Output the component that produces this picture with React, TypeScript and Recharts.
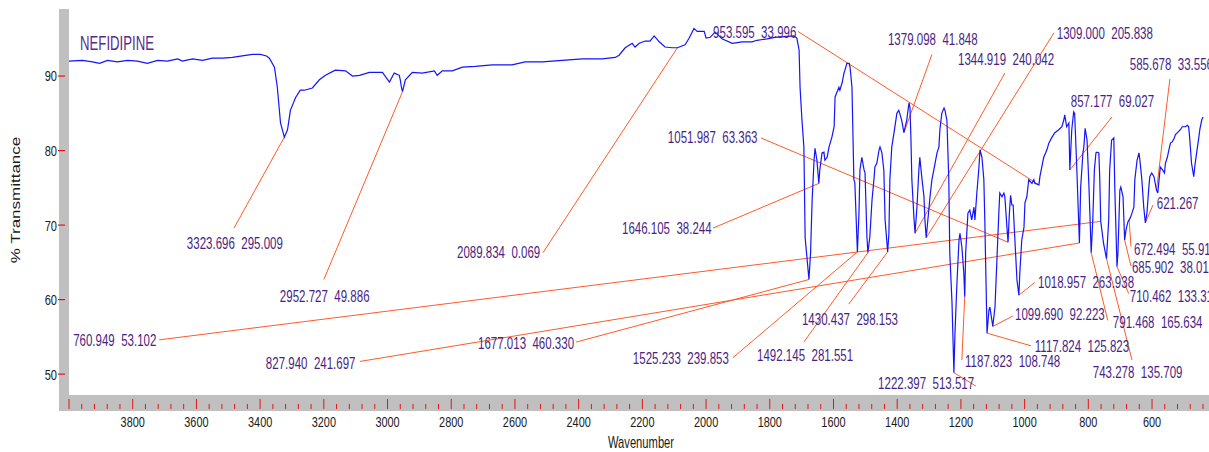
import React from 'react';
import { ComposedChart, Line, Scatter, XAxis, YAxis, ReferenceLine } from 'recharts';

// ---------- spectrum ----------
const wavenumber = [4000,3958,3926,3904,3879,3848,3816,3785,3754,3722,3691,3659,3644,3612,3581,3550,3518,3487,3456,3424,3399,3380,3371,3355,3346,3336,3324,3314,3305,3289,3274,3261,3236,3214,3195,3164,3132,3110,3088,3057,3016,2994,2979,2963,2960,2956,2953,2944,2922,2891,2853,2844,2828,2797,2765,2725,2671,2609,2568,2514,2452,2389,2326,2285,2273,2254,2232,2223,2210,2191,2176,2163,2147,2129,2107,2090,2066,2053,2038,2028,2006,2000,1987,1972,1950,1918,1887,1856,1840,1809,1784,1724,1715,1708,1705,1699,1693,1689,1677,1672,1667,1661,1658,1652,1646,1643,1636,1630,1627,1620,1614,1605,1598,1595,1583,1580,1573,1567,1564,1558,1551,1548,1542,1536,1533,1525,1520,1517,1511,1504,1501,1495,1492,1486,1479,1473,1470,1464,1457,1454,1448,1442,1438,1430,1426,1423,1417,1410,1401,1395,1392,1386,1379,1370,1363,1360,1357,1354,1347,1344,1338,1332,1329,1322,1316,1313,1309,1300,1297,1291,1285,1275,1269,1266,1260,1253,1250,1244,1238,1235,1228,1222,1219,1213,1206,1203,1197,1191,1188,1185,1178,1172,1166,1159,1156,1150,1144,1140,1134,1128,1125,1118,1112,1109,1103,1100,1093,1087,1081,1078,1071,1065,1062,1056,1052,1048,1044,1040,1036,1031,1024,1018,1015,1009,1002,999,993,987,977,971,968,955,952,946,940,930,924,914,905,893,883,877,874,868,861,858,852,846,843,836,828,824,817,814,810,804,798,791,786,781,776,773,767,764,761,752,743,736,733,727,720,717,710,707,701,698,691,686,682,676,672,668,663,657,654,647,641,638,632,626,621,616,610,607,601,594,586,582,577,574,567,561,558,552,545,542,536,530,527,520,511,505,495,489,485,482,476,469,466,460,453,450,444,440];

const transmittance = [92.0,92.1,91.9,91.7,92.1,91.9,92.1,92.0,91.7,92.1,92.0,92.3,92.0,92.3,92.1,92.4,92.4,92.5,92.7,92.9,92.9,92.7,92.4,91.2,88.5,83.7,81.8,82.8,85.4,87.1,88.1,88.1,88.4,89.5,90.1,90.8,90.7,90.0,90.1,90.5,90.5,89.2,90.4,90.1,89.5,88.4,87.9,89.5,90.5,90.4,90.7,90.1,90.7,90.7,91.2,91.3,91.5,91.5,91.9,91.9,92.1,92.3,92.3,92.5,92.8,93.8,94.4,93.9,94.4,94.7,94.7,95.4,94.6,93.9,93.8,93.8,94.2,95.1,96.4,96.0,96.0,95.1,95.2,95.9,95.0,94.4,94.6,94.6,94.8,95.0,95.2,95.4,95.1,93.5,88.5,84.1,80.5,68.3,62.7,66.3,73.4,78.7,80.3,78.7,75.6,77.4,79.7,79.8,78.7,79.1,80.5,81.8,83.2,87.2,88.5,88.1,89.1,90.4,90.8,91.7,91.7,91.2,88.5,76.1,75.7,66.4,71.6,77.4,79.1,77.4,77.0,68.4,66.3,68.4,73.4,76.1,77.8,78.3,80.1,80.5,79.7,77.4,70.7,66.4,68.9,76.1,80.5,82.4,85.0,85.4,85.0,84.1,82.4,84.1,86.4,85.8,81.8,76.1,70.7,68.9,72.4,77.4,79.1,76.1,73.8,70.7,68.3,72.4,73.8,76.1,77.4,79.7,80.5,82.8,85.0,85.7,85.4,84.1,76.1,66.3,59.6,50.2,55.0,61.7,68.0,68.9,67.1,63.6,60.4,66.3,71.6,72.0,70.7,72.4,70.7,74.3,77.4,80.1,79.1,76.1,70.7,55.5,58.6,59.0,57.3,56.4,59.0,65.3,71.6,74.3,73.8,74.3,73.8,70.0,67.7,71.5,74.0,72.7,72.7,68.4,62.6,60.6,63.6,68.0,69.7,73.0,73.8,76.1,75.6,76.1,75.6,75.4,76.5,77.8,79.1,80.1,81.0,81.8,82.4,82.8,83.2,84.1,84.8,83.2,83.7,77.4,82.8,85.2,85.0,77.4,67.6,75.1,79.7,80.5,83.0,81.4,75.1,66.3,70.7,77.4,79.7,79.8,79.7,76.1,70.5,67.5,65.5,70.7,77.4,81.4,81.7,75.1,64.4,66.3,74.7,75.1,73.8,68.0,69.3,70.4,70.7,71.0,71.6,72.4,76.1,78.7,79.7,78.7,76.1,72.4,70.3,71.6,75.1,76.5,77.0,76.5,74.7,74.3,76.5,77.8,77.4,77.0,78.3,79.1,80.5,81.0,81.2,81.7,82.1,82.4,82.8,83.2,83.2,83.4,83.2,81.8,78.3,76.5,77.8,79.7,81.8,82.8,84.1,84.5];

// ---------- axes ----------
const yTicks = [50, 60, 70, 80, 90];
const xMajorTicks = [4000, 3800, 3600, 3400, 3200, 3000, 2800, 2600, 2400, 2200, 2000, 1800, 1600, 1400, 1200, 1000, 800, 600];
const xTickLabels = ['', '3800', '3600', '3400', '3200', '3000', '2800', '2600', '2400', '2200', '2000', '1800', '1600', '1400', '1200', '1000', '800', '600'];
const xMinorStep = 40;
const xMin = 440;
const xMax = 4000;
const yMin = 47.2;
const yMax = 99;

// ---------- peak annotations ----------
const peakText = [
  '3323.696  295.009', '2952.727  49.886', '2089.834  0.069', '953.595  33.996',
  '1379.098  41.848', '1344.919  240.042', '1309.000  205.838', '857.177  69.027',
  '585.678  33.556', '1051.987  63.363', '1646.105  38.244', '621.267',
  '672.494  55.912', '685.902  38.018', '710.462  133.310', '1018.957  263.938',
  '1099.690  92.223', '1117.824  125.823', '1187.823  108.748', '1222.397  513.517',
  '1525.233  239.853', '1492.145  281.551', '1430.437  298.153', '1677.013  460.330',
  '827.940  241.697', '760.949  53.102', '791.468  165.634', '743.278  135.709',
];
const peakX = [3324, 2953, 2090, 955, 1379, 1344, 1309, 858, 586, 1052, 1646, 621, 672, 686, 710, 1018, 1100, 1118, 1188, 1222, 1525, 1492, 1430, 1677, 828, 761, 791, 743];
const peakY = [81.8, 87.9, 93.8, 75.4, 82.4, 68.9, 68.3, 77.4, 74.7, 67.7, 75.6, 70.3, 70.7, 68.0, 64.4, 60.6, 56.4, 55.5, 60.4, 50.2, 66.4, 66.3, 66.4, 62.7, 67.6, 70.5, 66.3, 65.5];
const leaderEndX = [3482, 3200, 2512, 1712, 1291, 1062, 908, 726, 544, 1828, 1978, 597, 666, 666, 673, 968, 1037, 980, 1197, 1153, 1916, 1693, 1552, 2408, 3087, 3717, 739, 663];
const leaderEndY = [69.6, 62.7, 66.3, 96.0, 92.9, 90.4, 95.8, 84.5, 89.6, 81.7, 69.6, 72.7, 67.1, 64.5, 60.8, 62.3, 57.8, 53.8, 51.9, 48.4, 52.2, 54.3, 59.4, 54.3, 51.7, 54.6, 57.2, 51.9];
const textX = [3630, 3338, 2782, 1978, 1429, 1209, 899, 855, 670, 2120, 2264, 585, 657, 663, 670, 958, 1030, 968, 1187, 1460, 2230, 1840, 1699, 2716, 3382, 3987, 723, 786];
const textY = [67.6, 60.4, 66.3, 95.9, 95.0, 92.3, 95.8, 86.6, 91.6, 81.8, 69.6, 73.0, 66.8, 64.4, 60.5, 62.4, 58.0, 53.7, 51.7, 48.8, 52.1, 52.6, 57.4, 54.2, 51.5, 54.6, 56.9, 50.3];

const spectrum = wavenumber.map((x, i) => ({ x, y: transmittance[i] }));
const labelPoints = peakText.map((text, i) => ({ x: textX[i], y: textY[i], text }));

const xTicks: number[] = [];
for (let v = xMax; v >= xMin; v -= xMinorStep) xTicks.push(v);

const FONT = "'Liberation Sans', Arial, Helvetica, sans-serif";
const PURPLE = '#4a1f86';
const LEADER = '#ff5a28';
const TICKRED = '#e41414';

const XTick = (props: any) => {
  const { x, y, payload } = props;
  const v = payload.value;
  const idx = xMajorTicks.indexOf(v);
  const major = idx >= 0;
  return (
    <g>
      <line x1={x} x2={x} y1={y + (major ? 4 : 9)} y2={y + 14} stroke={TICKRED} strokeWidth={1} />
      {major && xTickLabels[idx] !== '' && (
        <text transform={`translate(${x},${y + 32}) scale(0.78,1)`} textAnchor="middle" fontSize={14} fontFamily={FONT} fill="#1a1a1a">
          {xTickLabels[idx]}
        </text>
      )}
    </g>
  );
};

const YTick = (props: any) => {
  const { x, y, payload } = props;
  return (
    <g>
      <line x1={x - 11} x2={x - 4} y1={y} y2={y} stroke={TICKRED} strokeWidth={1.2} />
      <text transform={`translate(${x - 12},${y + 5.4}) scale(0.74,1)`} textAnchor="end" fontSize={15} fontFamily={FONT} fill="#1a1a1a">
        {payload.value}
      </text>
    </g>
  );
};

const LabelShape = (props: any) => {
  const { cx, cy, payload } = props;
  if (cx == null || cy == null) return null;
  return (
    <text
      transform={`translate(${cx},${cy}) scale(0.72,1)`}
      dy="0.36em"
      fontSize={16}
      fontFamily={FONT}
      fill={PURPLE}
      style={{ whiteSpace: 'pre' }}
    >
      {payload.text}
    </text>
  );
};

export default function App() {
  return (
    <div style={{ position: 'absolute', left: 0, top: 0, width: 1209, height: 452, background: '#ffffff', overflow: 'hidden' }}>
      <div style={{ position: 'absolute', left: 59, top: 9, width: 10, height: 402, background: '#c0c0c0' }} />
      <div style={{ position: 'absolute', left: 59, top: 395, width: 1150, height: 16, background: '#c0c0c0' }} />
      <div style={{ position: 'absolute', left: 0, top: 0 }}>
        <ComposedChart width={1209} height={452} margin={{ top: 9, right: 6, bottom: 0, left: 0 }}>
          <XAxis
            type="number"
            dataKey="x"
            domain={[xMin, xMax]}
            reversed
            ticks={xTicks}
            interval={0}
            tick={<XTick />}
            tickLine={false}
            axisLine={false}
            tickSize={0}
            tickMargin={0}
            height={57}
          />
          <YAxis
            type="number"
            dataKey="y"
            domain={[yMin, yMax]}
            ticks={yTicks}
            interval={0}
            tick={<YTick />}
            tickLine={false}
            axisLine={false}
            tickSize={0}
            tickMargin={0}
            width={69}
          />
          {peakText.map((t, i) => (
            <ReferenceLine
              key={t}
              segment={[{ x: peakX[i], y: peakY[i] }, { x: leaderEndX[i], y: leaderEndY[i] }]}
              stroke={LEADER}
              strokeWidth={1}
              ifOverflow="visible"
            />
          ))}
          <Line
            data={spectrum}
            dataKey="y"
            type="linear"
            stroke="#1414ff"
            strokeWidth={1.2}
            dot={false}
            activeDot={false}
            isAnimationActive={false}
          />
          <Scatter data={labelPoints} dataKey="y" shape={<LabelShape />} isAnimationActive={false} />
        </ComposedChart>
      </div>
      <svg width={1209} height={452} style={{ position: 'absolute', left: 0, top: 0, pointerEvents: 'none' }}>
        <text transform="translate(80,50) scale(0.66,1)" fontSize={20} fontFamily={FONT} fill="#5a2a8c">NEFIDIPINE</text>
        <text transform="translate(641,448) scale(0.7,1)" textAnchor="middle" fontSize={16} fontFamily={FONT} fill="#1a1a1a">Wavenumber</text>
        <text transform="translate(20,200) rotate(-90) scale(1,0.75)" textAnchor="middle" fontSize={17} fontFamily={FONT} fill="#1a1a1a">% Transmittance</text>
      </svg>
    </div>
  );
}
